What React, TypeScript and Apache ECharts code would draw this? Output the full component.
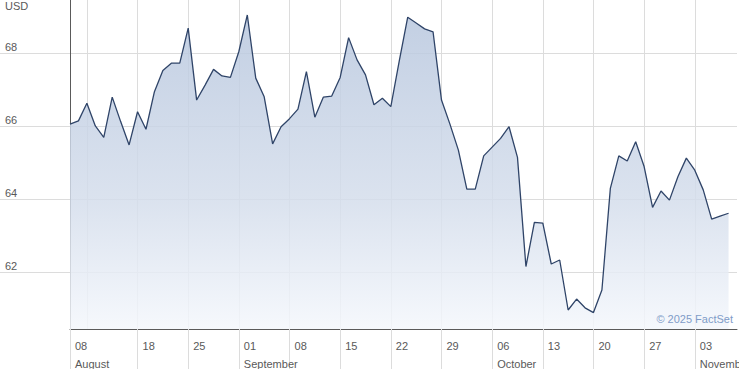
import React, { useEffect, useRef } from "react";
import * as echarts from "echarts";

// Daily closing prices (USD), one per trading session
const prices: number[] = [
  66.05, 66.14, 66.62, 66.0, 65.69, 66.79, 66.12, 65.48, 66.39, 65.91,
  66.94, 67.52, 67.72, 67.72, 68.68, 66.71, 67.12, 67.55, 67.37, 67.33,
  68.04, 69.04, 67.31, 66.8, 65.51, 65.98, 66.2, 66.46, 67.49, 66.24,
  66.79, 66.82, 67.33, 68.42, 67.81, 67.4, 66.58, 66.76, 66.53, 67.78,
  68.98, 68.82, 68.66, 68.58, 66.71, 66.05, 65.34, 64.27, 64.27, 65.18,
  65.42, 65.66, 65.98, 65.14, 62.15, 63.36, 63.34, 62.22, 62.33, 60.96,
  61.26, 61.02, 60.89, 61.51, 64.29, 65.18, 65.04, 65.57, 64.89, 63.77,
  64.22, 63.97, 64.61, 65.12, 64.79, 64.25, 63.45, 63.53, 63.61,
];

// one extra empty session at the right edge of the plot
const sessions: string[] = Array.from({ length: prices.length + 1 }, (_, i) => `s${i}`);
const seriesData: (number | null)[] = [...prices, null];

// week tick labels and their session index
const weekLabels = ["08", "18", "25", "01", "08", "15", "22", "29", "06", "13", "20", "27", "03"];
const weekLabelIdx = [0, 8, 14, 20, 26, 32, 38, 44, 50, 56, 62, 68, 74];
// vertical grid lines inside the plot
const gridIdx = [2, 8, 14, 20, 26, 32, 38, 44, 50, 56, 62, 68, 74];
// month labels (second row)
const monthNames = ["August", "September", "October", "November"];
const monthIdx = [0, 20, 50, 74];

const yTicks = [62, 64, 66, 68];
const yMin = 60.44;
const yMax = 69.45;

const FONT = "'Liberation Sans', Arial, sans-serif";
const TEXT = "#595959";
const GRID = "#dcdcdc";
const AXIS = "#5a5a5a";

export default function App() {
  const ref = useRef<HTMLDivElement>(null);
  useEffect(() => {
    if (!ref.current) return;
    const chart = echarts.init(ref.current, undefined, { renderer: "svg" });
    chart.setOption({
      animation: false,
      backgroundColor: "#ffffff",
      textStyle: { fontFamily: FONT },
      grid: {
        left: 70,
        right: 2,
        top: 0,
        bottom: 40,
        containLabel: false,
        outerBoundsMode: "none",
      },
      graphic: [
        {
          type: "text",
          left: 5,
          top: 0,
          z: 100,
          style: { text: "USD", fontSize: 11, fontFamily: FONT, fill: TEXT },
        },
        {
          type: "text",
          right: 6,
          top: 313,
          z: 100,
          style: { text: "© 2025 FactSet", fontSize: 11, fontFamily: FONT, fill: "#7f9cc8" },
        },
      ],
      xAxis: {
        type: "category",
        data: sessions,
        boundaryGap: false,
        axisLine: { show: true, lineStyle: { color: AXIS, width: 1 } },
        axisTick: {
          show: true,
          length: 40,
          interval: (i: number) => weekLabelIdx.indexOf(i) >= 0,
          lineStyle: { color: GRID, width: 1 },
        },
        splitLine: {
          show: true,
          interval: (i: number) => gridIdx.indexOf(i) >= 0,
          lineStyle: { color: GRID, width: 1 },
        },
        axisLabel: {
          show: true,
          interval: (i: number) => weekLabelIdx.indexOf(i) >= 0,
          formatter: (_v: string, i: number) => {
            const k = weekLabelIdx.indexOf(i);
            const m = monthIdx.indexOf(i);
            const d = k >= 0 ? weekLabels[k] : "";
            return m >= 0 ? `${d}\n${monthNames[m]}` : d;
          },
          align: "left",
          verticalAlign: "top",
          padding: [0, 0, 0, 5],
          margin: 8,
          lineHeight: 18,
          fontSize: 11,
          fontFamily: FONT,
          color: TEXT,
        },
      },
      yAxis: {
        type: "value",
        min: yMin,
        max: yMax,
        axisLine: { show: true, lineStyle: { color: AXIS, width: 1 } },
        axisTick: {
          show: true,
          length: 70,
          customValues: yTicks,
          lineStyle: { color: GRID, width: 1 },
        },
        splitLine: { show: true, lineStyle: { color: GRID, width: 1 } },
        axisLabel: {
          show: true,
          customValues: yTicks,
          formatter: (v: number) => String(v),
          align: "left",
          verticalAlign: "bottom",
          margin: 65,
          lineHeight: 12,
          fontSize: 11,
          fontFamily: FONT,
          color: TEXT,
        },
      },
      series: [
        {
          type: "line",
          data: seriesData,
          symbol: "none",
          connectNulls: false,
          z: 2,
          lineStyle: { color: "#2f4468", width: 1.3 },
          areaStyle: {
            opacity: 1,
            color: new echarts.graphic.LinearGradient(0, 0, 0, 1, [
              { offset: 0, color: "rgba(184,199,222,0.85)" },
              { offset: 0.6, color: "rgba(213,222,236,0.85)" },
              { offset: 1, color: "rgba(244,247,252,0.85)" },
            ]),
          },
        },
      ],
    });
    return () => chart.dispose();
  }, []);
  return (
    <div
      ref={ref}
      style={{ position: "absolute", left: 0, top: 0, width: 739, height: 369, overflow: "hidden" }}
    />
  );
}
